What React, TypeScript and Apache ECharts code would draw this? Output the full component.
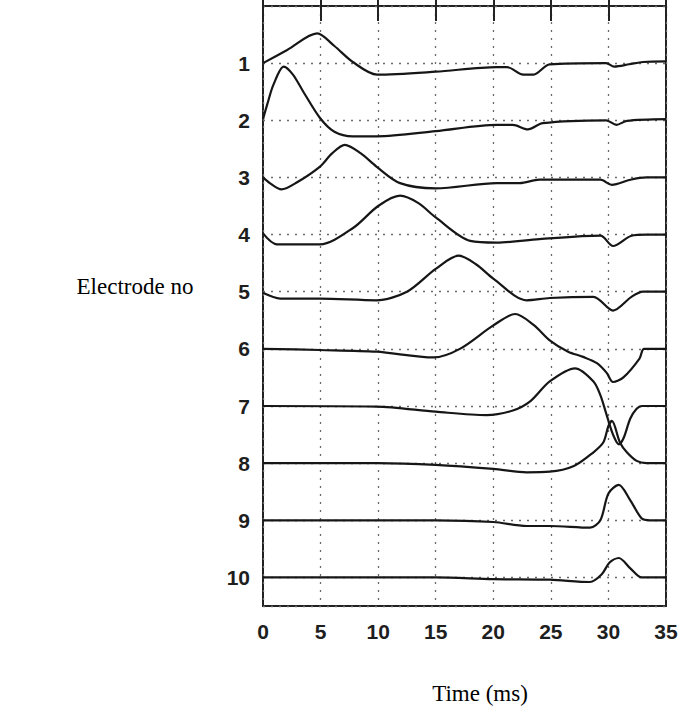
import React, { useEffect, useRef } from "react";
import * as echarts from "echarts";

// Time axis (ms)
const X_MIN = 0;
const X_MAX = 35;
const X_STEP = 5;

// Electrode numbers (baseline of each trace sits at its number on the y scale)
const ELECTRODES = [1, 2, 3, 4, 5, 6, 7, 8, 9, 10];

// Each trace: [time ms, deflection above its baseline, in units of trace spacing]
const TRACE_1 = [[0, 0], [2.1, 0.23], [4.7, 0.52], [6.2, 0.3], [7.8, 0.02], [9.9, -0.2], [15, -0.15], [20.3, -0.07], [21.2, -0.07], [22.6, -0.2], [23.5, -0.2], [24.9, -0.02], [29.8, 0], [30.5, -0.06], [31.8, -0.02], [33, 0.02], [35, 0.03]];
const TRACE_2 = [[0, 0.02], [0.4, 0.3], [0.9, 0.62], [1.8, 0.94], [2.6, 0.8], [3.5, 0.5], [4.95, 0.04], [6.2, -0.2], [7.8, -0.28], [9.9, -0.28], [15, -0.19], [20.3, -0.08], [21.7, -0.08], [23, -0.16], [24.3, -0.05], [29.8, 0], [30.7, -0.08], [31.6, -0.01], [35, 0.02]];
const TRACE_3 = [[0, 0], [0.6, -0.1], [1.6, -0.21], [3, -0.08], [4.95, 0.19], [6, 0.42], [7.1, 0.57], [8.5, 0.42], [9.85, 0.19], [11.9, -0.1], [15, -0.19], [20.3, -0.1], [22.3, -0.1], [24, -0.04], [29.3, -0.04], [30.3, -0.13], [31.9, -0.04], [33.3, 0], [35, 0]];
const TRACE_4 = [[0, 0.02], [1.2, -0.17], [4.95, -0.17], [7.85, 0.12], [10, 0.5], [11.9, 0.68], [13.5, 0.55], [15, 0.3], [18, -0.11], [20.3, -0.14], [24, -0.08], [29.3, -0.02], [30.4, -0.2], [32, -0.02], [33.3, 0], [35, 0]];
const TRACE_5 = [[0, -0.02], [1.5, -0.12], [4.95, -0.12], [9.85, -0.15], [12.5, 0], [15, 0.4], [17, 0.63], [18.5, 0.48], [20, 0.23], [22.9, -0.15], [24.9, -0.11], [28.7, -0.09], [30.4, -0.33], [32, -0.09], [33, 0], [35, 0]];
const TRACE_6 = [[0, 0], [4.95, -0.02], [9.85, -0.05], [14.8, -0.15], [17.1, 0], [20, 0.41], [21.9, 0.61], [23.5, 0.42], [24.9, 0.15], [26.5, -0.05], [27.8, -0.14], [29, -0.25], [29.85, -0.42], [30.4, -0.58], [31.3, -0.5], [32.7, -0.17], [33.1, 0], [35, 0]];
const TRACE_7 = [[0, 0], [9.85, -0.01], [15, -0.1], [19.4, -0.16], [21.7, -0.08], [23.2, 0.08], [24.9, 0.43], [27.1, 0.66], [28.7, 0.43], [29.3, 0.19], [29.85, -0.16], [30.4, -0.5], [30.9, -0.67], [31.3, -0.57], [31.9, -0.22], [32.45, -0.05], [32.9, 0], [35, 0]];
const TRACE_8 = [[0, 0], [9.85, 0], [15, -0.03], [20, -0.1], [22.9, -0.16], [24.9, -0.15], [27, -0.05], [28.7, 0.19], [29.55, 0.36], [30, 0.65], [30.3, 0.74], [31, 0.36], [31.6, 0.19], [32.45, 0.04], [33.3, 0], [35, 0]];
const TRACE_9 = [[0, 0], [15, 0], [20, -0.03], [22.9, -0.1], [24.9, -0.1], [28.4, -0.13], [29.3, 0], [30, 0.47], [30.9, 0.62], [31.9, 0.35], [32.9, 0.03], [33.6, 0], [35, 0]];
const TRACE_10 = [[0, 0], [15, 0], [20, -0.03], [24.9, -0.04], [28.4, -0.08], [29.4, 0.05], [30.1, 0.26], [30.9, 0.34], [31.9, 0.16], [32.9, 0], [35, 0]];

const TRACES = [TRACE_1, TRACE_2, TRACE_3, TRACE_4, TRACE_5, TRACE_6, TRACE_7, TRACE_8, TRACE_9, TRACE_10];

const X_TITLE = "Time (ms)";
const Y_TITLE = "Electrode no";

export default function App() {
  const ref = useRef<HTMLDivElement>(null);

  useEffect(() => {
    document.body.style.margin = "0";
    if (!ref.current) return;
    const chart = echarts.init(ref.current, null, { renderer: "svg" });

    const boldLabel = {
      fontFamily: "Liberation Sans, Arial, sans-serif",
      fontWeight: "bold" as const,
      fontSize: 21,
      color: "#1e1e1e",
    };
    const dotted = { color: "#6a6a6a", width: 1.3, type: [2, 6] as number[] };
    const serif = "Liberation Serif, Times New Roman, serif";

    chart.setOption({
      animation: false,
      backgroundColor: "#ffffff",
      grid: {
        left: 263,
        right: 16,
        top: 6,
        bottom: 106,
        show: true,
        borderColor: "#222",
        borderWidth: 2,
      },
      xAxis: [
        {
          type: "value",
          min: X_MIN,
          max: X_MAX,
          interval: X_STEP,
          position: "bottom",
          axisLine: { show: false },
          axisTick: { show: true, inside: true, length: 14, lineStyle: { color: "#222", width: 2 } },
          axisLabel: { ...boldLabel, margin: 15 },
          splitLine: { show: true, lineStyle: dotted },
        },
        {
          type: "value",
          min: X_MIN,
          max: X_MAX,
          interval: X_STEP,
          position: "top",
          axisLine: { show: false },
          axisTick: { show: true, inside: true, length: 15, lineStyle: { color: "#222", width: 2 } },
          axisLabel: { show: false },
          splitLine: { show: false },
        },
      ],
      yAxis: {
        type: "value",
        inverse: true,
        min: 0,
        max: 10.5,
        interval: 1,
        axisLine: { show: false },
        axisTick: { show: false },
        axisLabel: {
          ...boldLabel,
          margin: 13,
          formatter: (v: number) => (ELECTRODES.includes(v) ? String(v) : ""),
        },
        splitLine: { show: true, lineStyle: dotted },
      },
      graphic: [
        {
          type: "text",
          x: 480,
          y: 693,
          style: {
            text: X_TITLE,
            fontFamily: serif,
            fontSize: 23,
            fill: "#000",
            align: "center",
            verticalAlign: "middle",
          },
        },
        {
          type: "text",
          x: 135,
          y: 286,
          style: {
            text: Y_TITLE,
            fontFamily: serif,
            fontSize: 23,
            fill: "#000",
            align: "center",
            verticalAlign: "middle",
          },
        },
      ],
      series: TRACES.map((tr, i) => ({
        type: "line",
        xAxisIndex: 0,
        smooth: 0.3,
        showSymbol: false,
        symbol: "none",
        lineStyle: { color: "#161616", width: 2.2 },
        data: tr.map(([t, d]) => [t, ELECTRODES[i] - d]),
      })),
    });

    return () => chart.dispose();
  }, []);

  return <div ref={ref} style={{ width: 682, height: 712 }} />;
}
